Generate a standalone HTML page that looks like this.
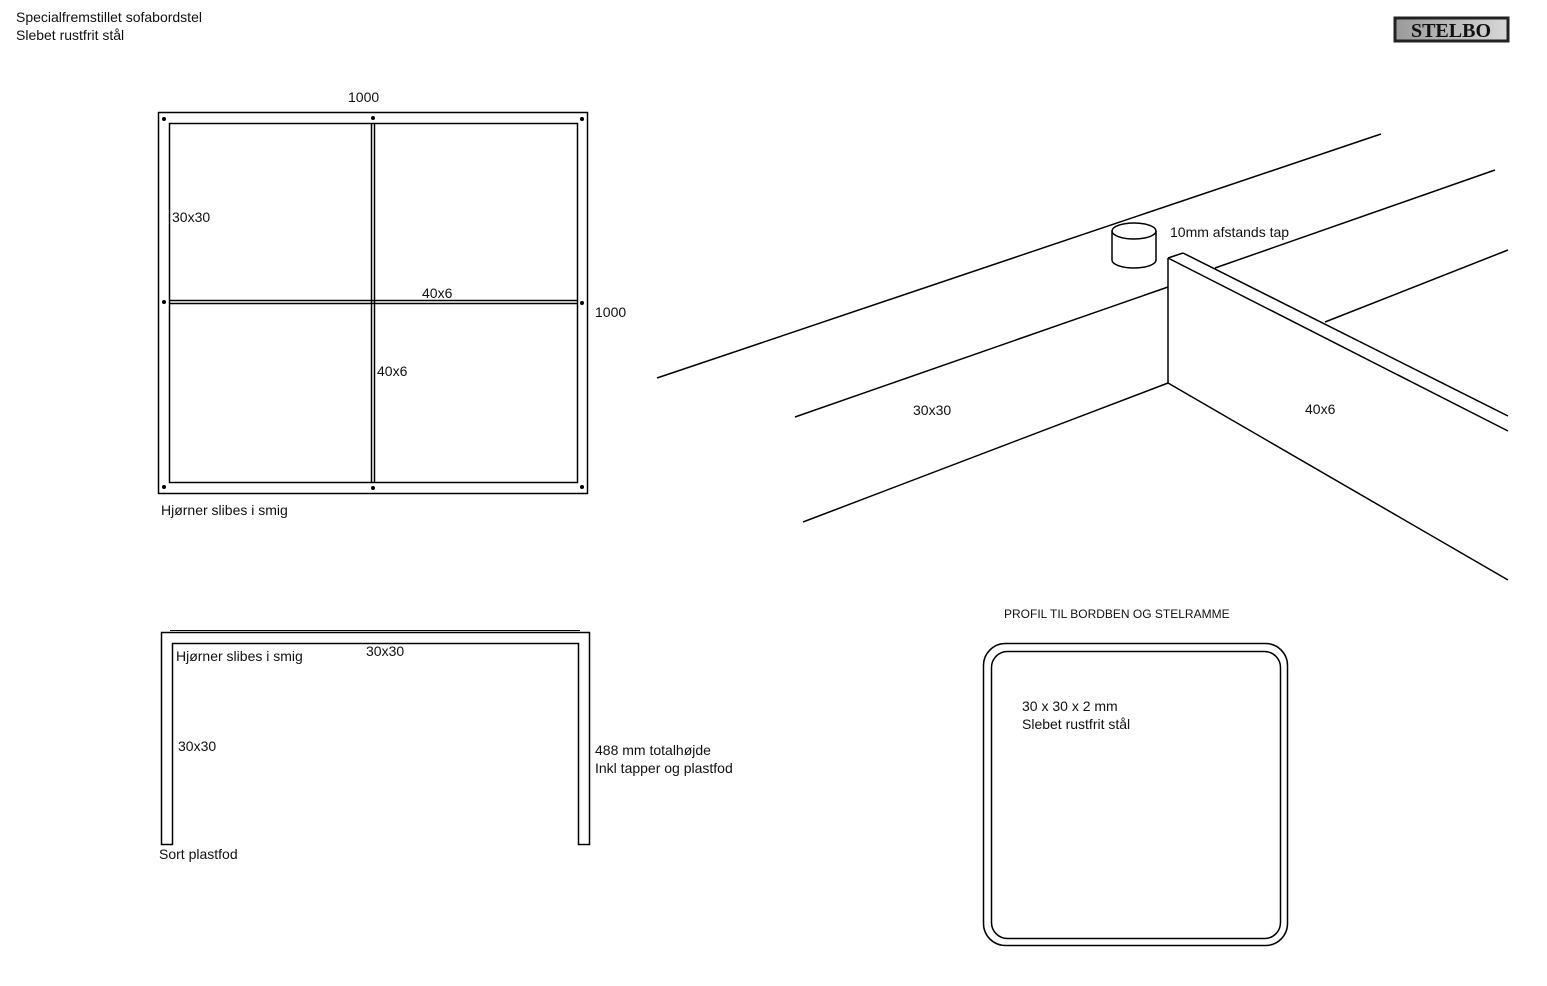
<!DOCTYPE html>
<html><head><meta charset="utf-8"><style>
body{margin:0;background:#fff;width:1547px;height:986px;overflow:hidden}
svg{position:absolute;left:0;top:0}
text{font-family:"Liberation Sans",sans-serif;font-size:14px;fill:#111}
</style></head><body>
<svg width="1547" height="986" viewBox="0 0 1547 986">
<defs><linearGradient id="g" x1="0" x2="1"><stop offset="0" stop-color="#9a9a9a"/><stop offset="1" stop-color="#d8d8d8"/></linearGradient></defs>
<g fill="none" stroke="#000" stroke-width="1.5">
<rect x="158.5" y="112.5" width="429" height="381"/>
<rect x="169.5" y="123.5" width="408" height="359"/>
<line x1="371.5" y1="123" x2="371.5" y2="483"/>
<line x1="374.5" y1="123" x2="374.5" y2="483"/>
<line x1="169" y1="300.5" x2="578" y2="300.5"/>
<line x1="169" y1="303.5" x2="578" y2="303.5"/>
<path d="M161.5 844.5V632.5H589.5V844.5H578.5V643.5H172.5V844.5Z"/>
<line x1="170" y1="630.5" x2="580" y2="630.5" stroke-width="1"/>
<line x1="657" y1="378" x2="1381" y2="134"/>
<line x1="795" y1="417" x2="1168" y2="287"/>
<line x1="1215" y1="268" x2="1495" y2="170"/>
<line x1="1325" y1="322" x2="1508" y2="250"/>
<line x1="803" y1="522" x2="1168" y2="383"/>
<line x1="1168" y1="383" x2="1508" y2="580"/>
<line x1="1168" y1="258" x2="1168" y2="383"/>
<line x1="1168" y1="258" x2="1183" y2="253"/>
<line x1="1168" y1="258" x2="1508" y2="431"/>
<line x1="1183" y1="253" x2="1508" y2="416"/>
<ellipse cx="1134" cy="231" rx="22" ry="8" fill="#fff"/>
<path d="M1112 231V260A22 8 0 0 0 1156 260V231"/>
<rect x="983.5" y="643.5" width="304" height="302" rx="22"/>
<rect x="991.5" y="651.5" width="289" height="287" rx="16"/>
</g>
<g fill="#000">
<circle cx="164" cy="119" r="2"/><circle cx="373" cy="118" r="2"/><circle cx="582" cy="119" r="2"/>
<circle cx="164" cy="302" r="2"/><circle cx="582" cy="303" r="2"/>
<circle cx="164" cy="487" r="2"/><circle cx="373" cy="488" r="2"/><circle cx="582" cy="487" r="2"/>
</g>
<rect x="1395" y="18" width="113" height="23" fill="url(#g)" stroke="#222" stroke-width="3"/>
<text x="1451" y="37" text-anchor="middle" style="font-family:'Liberation Serif',serif;font-weight:bold;font-size:20px;fill:#111">STELBO</text>
<text x="16" y="22">Specialfremstillet sofabordstel</text>
<text x="16" y="40">Slebet rustfrit stål</text>
<text x="348" y="102">1000</text>
<text x="172" y="222">30x30</text>
<text x="422" y="298">40x6</text>
<text x="595" y="317">1000</text>
<text x="377" y="376">40x6</text>
<text x="161" y="515">Hjørner slibes i smig</text>
<text x="176" y="661">Hjørner slibes i smig</text>
<text x="366" y="656">30x30</text>
<text x="178" y="751">30x30</text>
<text x="595" y="755">488 mm totalhøjde</text>
<text x="595" y="773">Inkl tapper og plastfod</text>
<text x="159" y="859">Sort plastfod</text>
<text x="1170" y="237">10mm afstands tap</text>
<text x="913" y="415">30x30</text>
<text x="1305" y="414">40x6</text>
<text x="1004" y="618" style="font-size:12px">PROFIL TIL BORDBEN OG STELRAMME</text>
<text x="1022" y="711">30 x 30 x 2 mm</text>
<text x="1022" y="729">Slebet rustfrit stål</text>
</svg>
</body></html>
